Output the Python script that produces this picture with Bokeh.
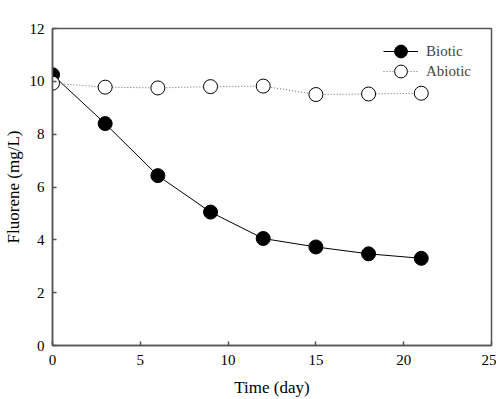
from bokeh.plotting import figure
from bokeh.models import Range1d, Legend, LegendItem, FixedTicker
from bokeh.embed import file_html
from bokeh.resources import INLINE

# Fluorene concentration over time
days = [0, 3, 6, 9, 12, 15, 18, 21]
biotic = [10.25, 8.4, 6.43, 5.05, 4.05, 3.73, 3.47, 3.3]
abiotic = [9.93, 9.78, 9.75, 9.8, 9.82, 9.5, 9.52, 9.55]
x_ticks = [0, 5, 10, 15, 20, 25]
y_ticks = [0, 2, 4, 6, 8, 10, 12]
series_labels = ["Biotic", "Abiotic"]

SERIF = "'Liberation Serif', serif"
AXIS_COLOR = "#555555"

p = figure(width=496, height=399, output_backend="svg", toolbar_location=None,
           x_range=Range1d(0, 25), y_range=Range1d(0, 12),
           min_border_left=52, min_border_right=5, min_border_top=28, min_border_bottom=54)
p.grid.visible = False
p.outline_line_color = AXIS_COLOR
p.outline_line_width = 1.5

for ax in (p.xaxis[0], p.yaxis[0]):
    ax.major_tick_in = 4
    ax.major_tick_out = 0
    ax.minor_tick_line_color = None
    ax.axis_line_color = AXIS_COLOR
    ax.axis_line_width = 1.5
    ax.major_tick_line_color = AXIS_COLOR
    ax.major_tick_line_width = 1.5
    ax.major_label_text_font = SERIF
    ax.major_label_text_font_size = "15px"
    ax.major_label_text_color = "black"
    ax.axis_label_text_font = SERIF
    ax.axis_label_text_font_size = "17px"
    ax.axis_label_text_font_style = "normal"
    ax.axis_label_text_color = "black"

p.xaxis.ticker = FixedTicker(ticks=x_ticks)
p.yaxis.ticker = FixedTicker(ticks=y_ticks)
p.xaxis.axis_label = "Time (day)"
p.yaxis.axis_label = "Fluorene (mg/L)"
p.xaxis.major_label_standoff = 9
p.xaxis.axis_label_standoff = 10
p.yaxis.major_label_standoff = 8
p.yaxis.axis_label_standoff = 4

bl = p.line(days, biotic, line_color="black", line_width=1)
bs = p.scatter(days, biotic, size=14, marker="circle", fill_color="black",
               line_color="black", line_width=1)
al = p.line(days, abiotic, line_color="#666666", line_width=1, line_dash="1 2")
a_s = p.scatter(days, abiotic, size=14, marker="circle", fill_color="white",
                line_color="black", line_width=1)

# one legend box per series so the rows sit closer than the glyph height
for i, (label, rends) in enumerate(zip(series_labels, [[bl, bs], [al, a_s]])):
    legend = Legend(items=[LegendItem(label=label, renderers=rends)],
                    location=(331, 278 - 20 * i), margin=0, padding=0,
                    glyph_width=35, glyph_height=32, label_standoff=8,
                    label_text_font=SERIF, label_text_font_size="15px",
                    background_fill_alpha=0, border_line_color=None)
    p.add_layout(legend)

open("out.html", "w").write(file_html(p, INLINE))
